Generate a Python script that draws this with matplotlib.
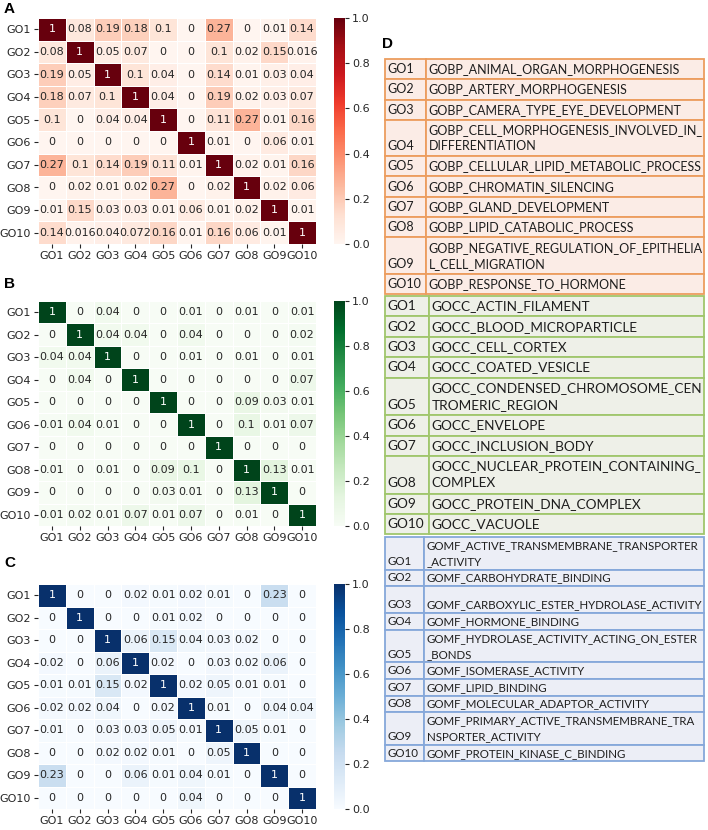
import numpy as np
import matplotlib
matplotlib.use("Agg")
import matplotlib.pyplot as plt
from matplotlib.patches import Rectangle

# GO term ids used on both heatmap axes
go_ids = ["GO1", "GO2", "GO3", "GO4", "GO5", "GO6", "GO7", "GO8", "GO9", "GO10"]

# similarity matrices
bp_sim = [
    [1, 0.08, 0.19, 0.18, 0.1, 0, 0.27, 0, 0.01, 0.14],
    [0.08, 1, 0.05, 0.07, 0, 0, 0.1, 0.02, 0.15, 0.016],
    [0.19, 0.05, 1, 0.1, 0.04, 0, 0.14, 0.01, 0.03, 0.04],
    [0.18, 0.07, 0.1, 1, 0.04, 0, 0.19, 0.02, 0.03, 0.07],
    [0.1, 0, 0.04, 0.04, 1, 0, 0.11, 0.27, 0.01, 0.16],
    [0, 0, 0, 0, 0, 1, 0.01, 0, 0.06, 0.01],
    [0.27, 0.1, 0.14, 0.19, 0.11, 0.01, 1, 0.02, 0.01, 0.16],
    [0, 0.02, 0.01, 0.02, 0.27, 0, 0.02, 1, 0.02, 0.06],
    [0.01, 0.15, 0.03, 0.03, 0.01, 0.06, 0.01, 0.02, 1, 0.01],
    [0.14, 0.016, 0.04, 0.072, 0.16, 0.01, 0.16, 0.06, 0.01, 1],
]

cc_sim = [
    [1, 0, 0.04, 0, 0, 0.01, 0, 0.01, 0, 0.01],
    [0, 1, 0.04, 0.04, 0, 0.04, 0, 0, 0, 0.02],
    [0.04, 0.04, 1, 0, 0, 0.01, 0, 0.01, 0, 0.01],
    [0, 0.04, 0, 1, 0, 0, 0, 0, 0, 0.07],
    [0, 0, 0, 0, 1, 0, 0, 0.09, 0.03, 0.01],
    [0.01, 0.04, 0.01, 0, 0, 1, 0, 0.1, 0.01, 0.07],
    [0, 0, 0, 0, 0, 0, 1, 0, 0, 0],
    [0.01, 0, 0.01, 0, 0.09, 0.1, 0, 1, 0.13, 0.01],
    [0, 0, 0, 0, 0.03, 0.01, 0, 0.13, 1, 0],
    [0.01, 0.02, 0.01, 0.07, 0.01, 0.07, 0, 0.01, 0, 1],
]

mf_sim = [
    [1, 0, 0, 0.02, 0.01, 0.02, 0.01, 0, 0.23, 0],
    [0, 1, 0, 0, 0.01, 0.02, 0, 0, 0, 0],
    [0, 0, 1, 0.06, 0.15, 0.04, 0.03, 0.02, 0, 0],
    [0.02, 0, 0.06, 1, 0.02, 0, 0.03, 0.02, 0.06, 0],
    [0.01, 0.01, 0.15, 0.02, 1, 0.02, 0.05, 0.01, 0.01, 0],
    [0.02, 0.02, 0.04, 0, 0.02, 1, 0.01, 0, 0.04, 0.04],
    [0.01, 0, 0.03, 0.03, 0.05, 0.01, 1, 0.05, 0.01, 0],
    [0, 0, 0.02, 0.02, 0.01, 0, 0.05, 1, 0, 0],
    [0.23, 0, 0, 0.06, 0.01, 0.04, 0.01, 0, 1, 0],
    [0, 0, 0, 0, 0, 0.04, 0, 0, 0, 1],
]

# table D terms (line breaks as in the original cells)
bp_terms = [
    "GOBP_ANIMAL_ORGAN_MORPHOGENESIS",
    "GOBP_ARTERY_MORPHOGENESIS",
    "GOBP_CAMERA_TYPE_EYE_DEVELOPMENT",
    "GOBP_CELL_MORPHOGENESIS_INVOLVED_IN_\nDIFFERENTIATION",
    "GOBP_CELLULAR_LIPID_METABOLIC_PROCESS",
    "GOBP_CHROMATIN_SILENCING",
    "GOBP_GLAND_DEVELOPMENT",
    "GOBP_LIPID_CATABOLIC_PROCESS",
    "GOBP_NEGATIVE_REGULATION_OF_EPITHELIA\nL_CELL_MIGRATION",
    "GOBP_RESPONSE_TO_HORMONE",
]
cc_terms = [
    "GOCC_ACTIN_FILAMENT",
    "GOCC_BLOOD_MICROPARTICLE",
    "GOCC_CELL_CORTEX",
    "GOCC_COATED_VESICLE",
    "GOCC_CONDENSED_CHROMOSOME_CEN\nTROMERIC_REGION",
    "GOCC_ENVELOPE",
    "GOCC_INCLUSION_BODY",
    "GOCC_NUCLEAR_PROTEIN_CONTAINING_\nCOMPLEX",
    "GOCC_PROTEIN_DNA_COMPLEX",
    "GOCC_VACUOLE",
]
mf_terms = [
    "GOMF_ACTIVE_TRANSMEMBRANE_TRANSPORTER\n_ACTIVITY",
    "GOMF_CARBOHYDRATE_BINDING",
    "\nGOMF_CARBOXYLIC_ESTER_HYDROLASE_ACTIVITY",
    "GOMF_HORMONE_BINDING",
    "GOMF_HYDROLASE_ACTIVITY_ACTING_ON_ESTER\n_BONDS",
    "GOMF_ISOMERASE_ACTIVITY",
    "GOMF_LIPID_BINDING",
    "GOMF_MOLECULAR_ADAPTOR_ACTIVITY",
    "GOMF_PRIMARY_ACTIVE_TRANSMEMBRANE_TRA\nNSPORTER_ACTIVITY",
    "GOMF_PROTEIN_KINASE_C_BINDING",
]

W, H = 708, 830
fig = plt.figure(figsize=(W / 100, H / 100), dpi=100)


def px_axes(left, top, right, bottom):
    return fig.add_axes([left / W, 1 - bottom / H, (right - left) / W, (bottom - top) / H])


# ---- table D (drawn first, in pixel coordinates) ----
ax_t = fig.add_axes([0, 0, 1, 1])
ax_t.set_xlim(0, W)
ax_t.set_ylim(H, 0)
ax_t.axis("off")
renderer = fig.canvas.get_renderer()

tab_left, tab_right = 385, 704
sections = [
    # terms, fill, edge, top, id column right edge, single row height, extra line height
    (bp_terms, "#fbece6", "#ec9d5e", 59, 426, 20.3, 16.0),
    (cc_terms, "#eef0e8", "#a0c66c", 296, 429, 20.4, 17.2),
    (mf_terms, "#eceef6", "#86a8da", 537, 424, 16.6, 16.0),
]
tab_font = "Lato"
tab_text = "#1e1e1e"

for terms, fill, edge, top, id_right, base, extra in sections:
    # fit font size so the longest line fills the term column
    lines = [ln for t in terms for ln in t.split("\n")]
    probe = ax_t.text(0, 0, "", fontsize=10, family=tab_font)
    widths = []
    for ln in lines:
        probe.set_text(ln)
        widths.append(probe.get_window_extent(renderer).width)
    probe.remove()
    fs = 10 * (tab_right - id_right - 5) / max(widths)

    y = top
    for gid, term in zip(go_ids, terms):
        parts = term.split("\n")
        n = len(parts)
        # blank leading lines in a cell are shorter than full text lines
        steps = [extra if p else 0.65 * extra for p in parts[:-1]]
        h = base + sum(steps)
        for x0, x1 in [(tab_left, id_right), (id_right, tab_right)]:
            ax_t.add_patch(Rectangle((x0, y), x1 - x0, h, facecolor=fill,
                                     edgecolor=edge, linewidth=1.3))
        bottom = y + h
        ax_t.text(tab_left + 2, bottom - base / 2, gid, fontsize=fs, family=tab_font,
                  va="center", ha="left", color=tab_text)
        for i, ln in enumerate(parts):
            if not ln:
                continue
            ly = bottom - base / 2 - (n - 1 - i) * extra
            ax_t.text(id_right + 2.5, ly, ln, fontsize=fs, family=tab_font,
                      va="center", ha="left", color=tab_text)
        y = bottom

fig.text(382 / W, 1 - 44 / H, "D", fontsize=11, fontweight="bold",
         family="Liberation Sans", va="center", ha="left")

# ---- heatmaps A, B, C ----
panels = [
    ("A", bp_sim, "Reds", 18, 244, 9),
    ("B", cc_sim, "Greens", 301, 526, 284),
    ("C", mf_sim, "Blues", 584, 809, 563),
]
hm_left, hm_right = 38, 316
cb_left, cb_right = 334, 345
txt_dark = "#262626"

for label, sim, cmap, top, bottom, label_y in panels:
    mat = np.array(sim, dtype=float)
    ax = px_axes(hm_left, top, hm_right, bottom)
    cax = px_axes(cb_left, top, cb_right, bottom)

    mesh = ax.pcolormesh(mat, cmap=cmap, vmin=0, vmax=1,
                         edgecolors="white", linewidth=0.6)
    ax.set_xlim(0, mat.shape[1])
    ax.set_ylim(mat.shape[0], 0)
    for s in ax.spines.values():
        s.set_visible(False)
    ax.set_xticks(np.arange(mat.shape[1]) + 0.5)
    ax.set_yticks(np.arange(mat.shape[0]) + 0.5)
    ax.set_xticklabels(go_ids, fontsize=8, color=txt_dark)
    ax.set_yticklabels(go_ids, fontsize=8, color=txt_dark)
    ax.tick_params(length=3, width=0.8, color=txt_dark, pad=2)

    # annotate cells, text colour from cell luminance
    for i in range(mat.shape[0]):
        for j in range(mat.shape[1]):
            v = mat[i, j]
            r, g, b, _ = mesh.cmap(mesh.norm(v))
            lum = 0.2126 * r + 0.7152 * g + 0.0722 * b
            col = txt_dark if lum > 0.408 else "white"
            ax.text(j + 0.5, i + 0.5, f"{v:g}", ha="center", va="center",
                    fontsize=8, color=col)

    cb = fig.colorbar(mesh, cax=cax)
    cb.outline.set_visible(False)
    cb.set_ticks([0, 0.2, 0.4, 0.6, 0.8, 1.0])
    cb.ax.tick_params(labelsize=8, length=3, width=0.8, colors=txt_dark, pad=2)

    fig.text(4 / W, 1 - label_y / H, label, fontsize=11, fontweight="bold",
             family="Liberation Sans", va="center", ha="left")

fig.savefig("out.png", dpi=100)
